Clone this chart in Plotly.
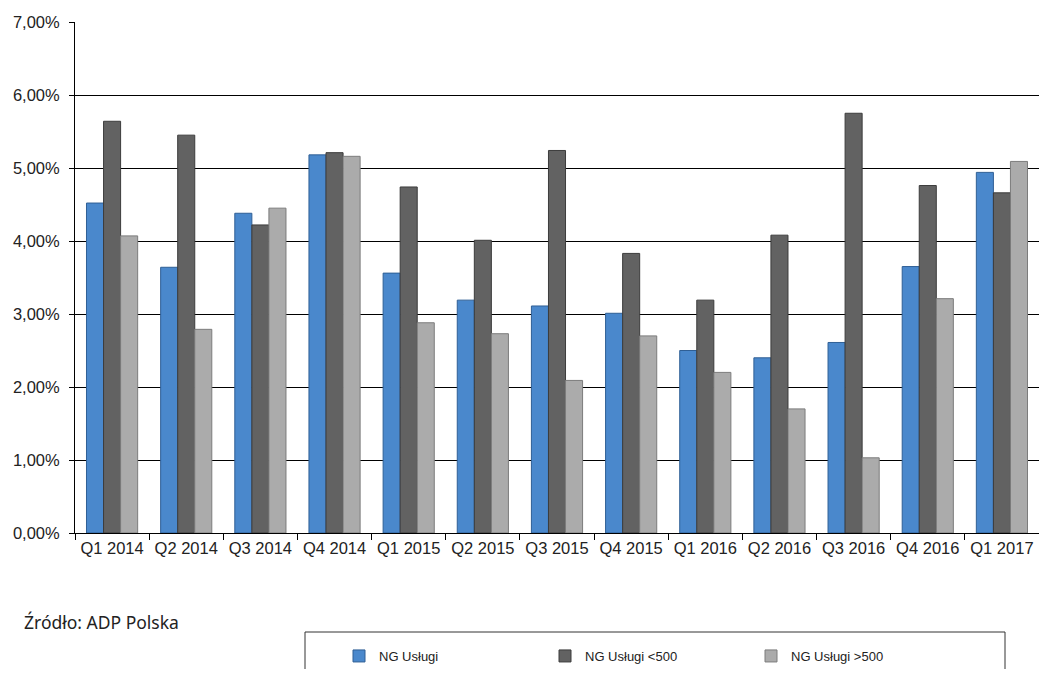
import plotly.graph_objects as go

categories = ["Q1 2014", "Q2 2014", "Q3 2014", "Q4 2014", "Q1 2015", "Q2 2015", "Q3 2015",
              "Q4 2015", "Q1 2016", "Q2 2016", "Q3 2016", "Q4 2016", "Q1 2017"]
ng_uslugi = [4.52, 3.64, 4.38, 5.18, 3.56, 3.19, 3.11, 3.01, 2.50, 2.40, 2.61, 3.65, 4.94]
ng_uslugi_lt500 = [5.64, 5.45, 4.22, 5.21, 4.74, 4.01, 5.24, 3.83, 3.19, 4.08, 5.75, 4.76, 4.66]
ng_uslugi_gt500 = [4.07, 2.79, 4.45, 5.16, 2.88, 2.73, 2.09, 2.70, 2.20, 1.70, 1.03, 3.21, 5.09]
series_names = ["NG Usługi", "NG Usługi <500", "NG Usługi >500"]
y_tick_vals = [0, 1, 2, 3, 4, 5, 6, 7]
y_tick_text = ["0,00%", "1,00%", "2,00%", "3,00%", "4,00%", "5,00%", "6,00%", "7,00%"]

colors = ["#4a88cc", "#626262", "#ababab"]
edge = ["#2f5f95", "#3c3c3c", "#7c7c7c"]

# page has an 8px body margin, so the figure is drawn 8px right/down;
# keep the figure inside the viewport so no scrollbars appear
OFF = 8
W, H = 1047 - 2 * OFF, 677 - 2 * OFF
L, T = 75 - OFF, 22 - OFF
PLOT_BOTTOM = 533 - OFF
R, B = 0, H - PLOT_BOTTOM
PW, PH = W - L - R, H - T - B


def px_x(x):
    return (x - OFF - L) / PW


def px_y(y):
    return (PLOT_BOTTOM - (y - OFF)) / PH


fig = go.Figure()
for name, vals, c, e in zip(series_names, [ng_uslugi, ng_uslugi_lt500, ng_uslugi_gt500], colors, edge):
    fig.add_trace(go.Bar(x=categories, y=vals, name=name,
                         marker=dict(color=c, line=dict(color=e, width=1))))

fig.update_layout(
    width=W, height=H,
    margin=dict(l=L, r=R, t=T, b=B, autoexpand=False),
    paper_bgcolor="white", plot_bgcolor="white",
    barmode="group", bargap=0.31, bargroupgap=0,
    font=dict(family="Liberation Sans, Arial, sans-serif", size=16.5, color="#222222"),
    showlegend=True,
    legend=dict(orientation="h", xref="container", yref="container",
                x=(339 - OFF) / W, y=1 - (656 - OFF) / H, xanchor="left", yanchor="middle",
                font=dict(size=13), itemwidth=30, entrywidth=161, traceorder="normal",
                bgcolor="rgba(0,0,0,0)"),
    xaxis=dict(showline=True, linecolor="black", linewidth=1, ticks="outside",
               tickson="boundaries", ticklen=6, tickcolor="black", showgrid=False,
               tickfont=dict(size=16.5)),
    yaxis=dict(range=[0, 7], tickvals=y_tick_vals, ticktext=y_tick_text,
               showgrid=True, gridcolor="black", gridwidth=1, showline=True,
               linecolor="black", linewidth=1, ticks="outside", ticklen=5,
               tickcolor="black", zeroline=False, tickfont=dict(size=16.5),
               ticklabelstandoff=6),
    shapes=[dict(type="rect", xref="paper", yref="paper",
                 x0=px_x(305), x1=px_x(1005),
                 y0=px_y(700), y1=px_y(632),
                 line=dict(color="#333333", width=1),
                 fillcolor="rgba(0,0,0,0)", layer="below")],
    annotations=[dict(text="Źródło: ADP Polska", xref="paper", yref="paper",
                      x=px_x(22), y=px_y(622), xanchor="left", yanchor="middle",
                      showarrow=False,
                      font=dict(family="Noto Sans, Open Sans, sans-serif", size=17.5,
                                color="#222222"))],
)

fig.write_html("out.html")
